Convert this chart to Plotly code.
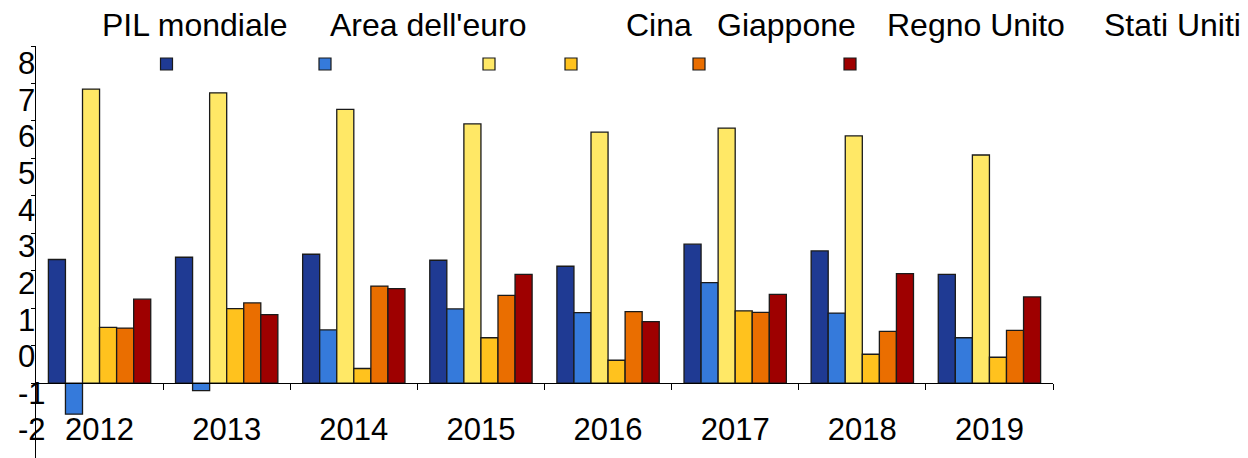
import plotly.graph_objects as go

# ---------------- data ----------------
years = ["2012", "2013", "2014", "2015", "2016", "2017", "2018", "2019"]
series_names = ["PIL mondiale", "Area dell'euro", "Cina", "Giappone", "Regno Unito", "Stati Uniti"]
world = [3.30, 3.36, 3.44, 3.28, 3.12, 3.71, 3.53, 2.90]
euro = [-0.83, -0.20, 1.42, 1.98, 1.88, 2.68, 1.87, 1.21]
china = [7.85, 7.75, 7.31, 6.92, 6.70, 6.81, 6.60, 6.09]
japan = [1.49, 1.99, 0.39, 1.21, 0.61, 1.93, 0.77, 0.69]
uk = [1.47, 2.14, 2.59, 2.34, 1.91, 1.89, 1.38, 1.41]
us = [2.24, 1.83, 2.52, 2.90, 1.64, 2.37, 2.92, 2.30]
y_tick_labels = ["-2", "-1", "0", "1", "2", "3", "4", "5", "6", "7", "8"]

# ---------------- style ----------------
colors = ["#1F3A93", "#357ADB", "#FFE866", "#FFC21E", "#EA6E00", "#9E0000"]
FONT = "Liberation Sans, Arial, sans-serif"
W, H = 1248, 458
ML, MR, MT, MB = 10, 195, 46, 0
plot_w = W - ML - MR
plot_h = H - MT - MB
AXIS_X = 36

def px_x(p):
    return (p - ML) / plot_w

def px_y(p):
    return (H - MB - p) / plot_h

legend_text_px = [194.5, 428, 658.5, 786.5, 976, 1172.5]
legend_mark_px = [166.5, 325, 489, 571, 699, 850]

fig = go.Figure()
all_series = [world, euro, china, japan, uk, us]
for name, vals, col in zip(series_names, all_series, colors):
    fig.add_trace(go.Bar(
        x=years, y=vals, name=name,
        marker=dict(color=col, line=dict(color="#1a1a1a", width=1.3)),
        showlegend=False, hoverinfo="x+y+name",
    ))

# helper trace so the label axis is drawn
fig.add_trace(go.Scatter(x=[years[0]], y=[None], yaxis="y2", mode="markers",
                         showlegend=False, hoverinfo="skip"))

annotations = []
shapes = []
for name, tx, mx, col in zip(series_names, legend_text_px, legend_mark_px, colors):
    annotations.append(dict(
        text=name, xref="paper", yref="paper", x=px_x(tx), y=px_y(25),
        xanchor="center", yanchor="middle", showarrow=False,
        font=dict(family=FONT, size=32, color="black"),
    ))
    shapes.append(dict(
        type="rect", xref="paper", yref="paper",
        xsizemode="pixel", ysizemode="pixel",
        xanchor=px_x(mx), yanchor=px_y(64),
        x0=-6, x1=6, y0=-6, y1=6,
        fillcolor=col, line=dict(color="#1a1a1a", width=1.2),
    ))

fig.update_layout(
    width=W, height=H,
    margin=dict(l=ML, r=MR, t=MT, b=MB, pad=0),
    paper_bgcolor="white", plot_bgcolor="white",
    barmode="group", bargap=0.195, bargroupgap=0,
    font=dict(family=FONT, size=31, color="black"),
    xaxis=dict(
        domain=[px_x(AXIS_X), 1], anchor="free", position=2 / 11,
        showline=True, linecolor="black", linewidth=1.4,
        ticks="outside", tickson="boundaries", ticklen=6, tickcolor="black", tickwidth=1.2,
        tickfont=dict(family=FONT, size=31, color="black"),
        ticklabelstandoff=19,
        showgrid=False, zeroline=False,
    ),
    yaxis=dict(
        range=[-2, 9], domain=[0, 1], anchor="x",
        showline=True, linecolor="black", linewidth=1.3,
        ticks="outside", ticklen=4, tickcolor="black", tickwidth=1.2,
        tickvals=list(range(-2, 10)), showticklabels=False,
        showgrid=False, zeroline=False,
    ),
    yaxis2=dict(
        overlaying="y", anchor="free", position=px_x(14), side="left",
        range=[-2.774, 8.468],
        tickvals=[int(t) for t in y_tick_labels], ticktext=y_tick_labels,
        ticklabelposition="inside", ticks="",
        tickfont=dict(family=FONT, size=31, color="black"),
        showline=False, showgrid=False, zeroline=False,
    ),
    annotations=annotations,
    shapes=shapes,
)

fig.write_html(
    "out.html",
    config={"displayModeBar": False},
    post_script="document.body.style.margin='0';document.body.style.overflow='hidden';",
)
